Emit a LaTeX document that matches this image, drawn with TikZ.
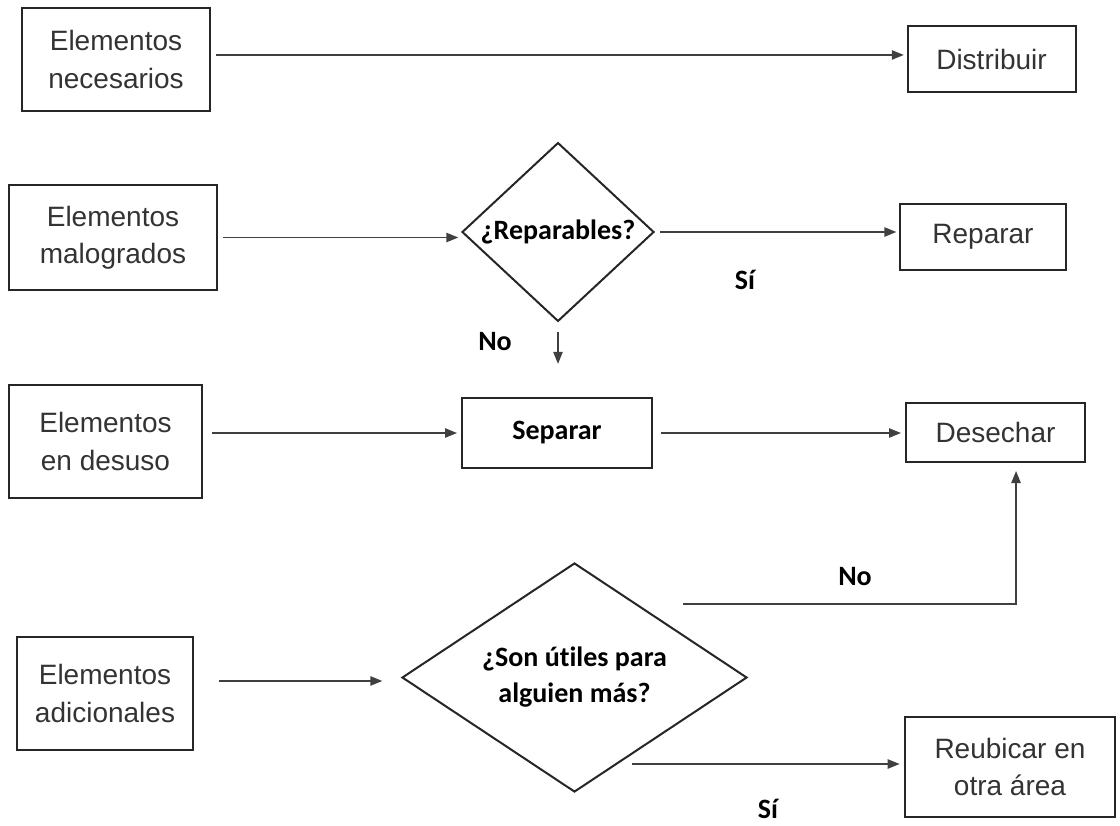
\documentclass[tikz,border=0pt]{standalone}
\usepackage{fontspec}
\setmainfont{Liberation Sans}
\newfontfamily\carlito[Ligatures=NoCommon]{Carlito}
\usetikzlibrary{shapes.geometric,arrows.meta}

\tikzset{every picture/.style={line width=0.75pt}}
\tikzset{
  caja/.style={draw=black!85, line width=1.5pt, rectangle, inner sep=0pt, align=center, text=black!80, font=\fontsize{21}{28}\selectfont},
  cajanegrita/.style={caja, text=black, font=\carlito\bfseries\fontsize{21}{27}\selectfont},
  rombo/.style={draw=black!85, line width=1.5pt, diamond, inner sep=0pt, align=center, font=\carlito\bfseries\fontsize{21}{27}\selectfont},
  etiqueta/.style={inner sep=0pt, font=\carlito\bfseries\fontsize{21}{27}\selectfont},
  flecha/.style={draw=black!75, line width=1.1pt, -{Triangle[length=9pt,width=7pt]}},
}

\begin{document}
\begin{tikzpicture}[x=0.75pt,y=0.75pt,yscale=-1,xscale=1]
\useasboundingbox (0,0) rectangle (1120,825);

%Shape: Rectangle [left column]
\node [caja, minimum width=141pt, minimum height=77.25pt] (necesarios) at (116,59.5) {Elementos\\necesarios};
\node [caja, minimum width=156pt, minimum height=78.75pt] (malogrados) at (113,237.5) {Elementos\\malogrados};
\node [caja, minimum width=144.75pt, minimum height=84.75pt] (desuso) at (105.5,441.5) {Elementos\\en desuso};
\node [caja, minimum width=132pt, minimum height=84.75pt] (adicionales) at (105,693.5) {Elementos\\adicionales};

%Shape: Diamond
\node [rombo, minimum width=144pt, minimum height=132.75pt] (reparables) at (558,232) {¿Reparables?};
\node [rombo, aspect=1.5, minimum width=258.75pt, minimum height=171.75pt] (utiles) at (574.5,677.5) {¿Son útiles para\\alguien más?};
%Shape: Rectangle [middle]
\node [cajanegrita, minimum width=142.5pt, minimum height=52.5pt] (separar) at (557,433) {Separar};

%Shape: Rectangle [right column]
\node [caja, minimum width=126pt, minimum height=49.5pt] (distribuir) at (991.5,59) {Distribuir};
\node [caja, minimum width=124.5pt, minimum height=49.5pt] (reparar) at (983,237) {Reparar};
\node [caja, minimum width=134.25pt, minimum height=44.25pt] (desechar) at (995.5,432.5) {Desechar};
\node [caja, minimum width=158pt, minimum height=75pt] (reubicar) at (1010,767) {Reubicar en\\otra área};

%Straight Lines
\draw [flecha, shorten <=4pt, shorten >=2pt] ([yshift=-3.4pt]necesarios.east) -- ([yshift=-3.4pt]necesarios.east -| distribuir.west);
\draw [flecha, shorten <=4pt, shorten >=2pt] (malogrados.east) -- (malogrados.east -| reparables.west);
\draw [flecha, shorten <=4pt, shorten >=2pt] (reparables.east) -- (reparables.east -| reparar.west);
\draw [flecha, shorten <=7pt, shorten >=3pt] (separar.west -| desuso.east) -- (separar.west);
\draw [flecha, shorten <=6pt, shorten >=3pt] (separar.east) -- (separar.east -| desechar.west);
\draw [flecha, shorten <=19pt, shorten >=14pt] ([yshift=-9.4pt]adicionales.east) -- ([yshift=-9.4pt]adicionales.east -| utiles.west);

\path (reparables.south) ++(0,41.5) coordinate (nofin);
\draw [flecha, shorten <=7pt] (reparables.south) -- (nofin);

\coordinate (noini) at (683,604);
\draw [flecha, shorten >=6pt] (noini) -| ([xshift=15.4pt]desechar.south);

\coordinate (siini) at (632,764);
\draw [flecha, shorten >=3pt] (siini) -- (siini -| reubicar.west);

% Text Node
\node [etiqueta] (sirep) at (745,280) {Sí};
% Text Node
\node [etiqueta] (norep) at (495,342) {No};
% Text Node
\node [etiqueta] (noutil) at (855,577) {No};
% Text Node
\node [etiqueta] (siutil) at (768,809) {Sí};

\end{tikzpicture}
\end{document}
